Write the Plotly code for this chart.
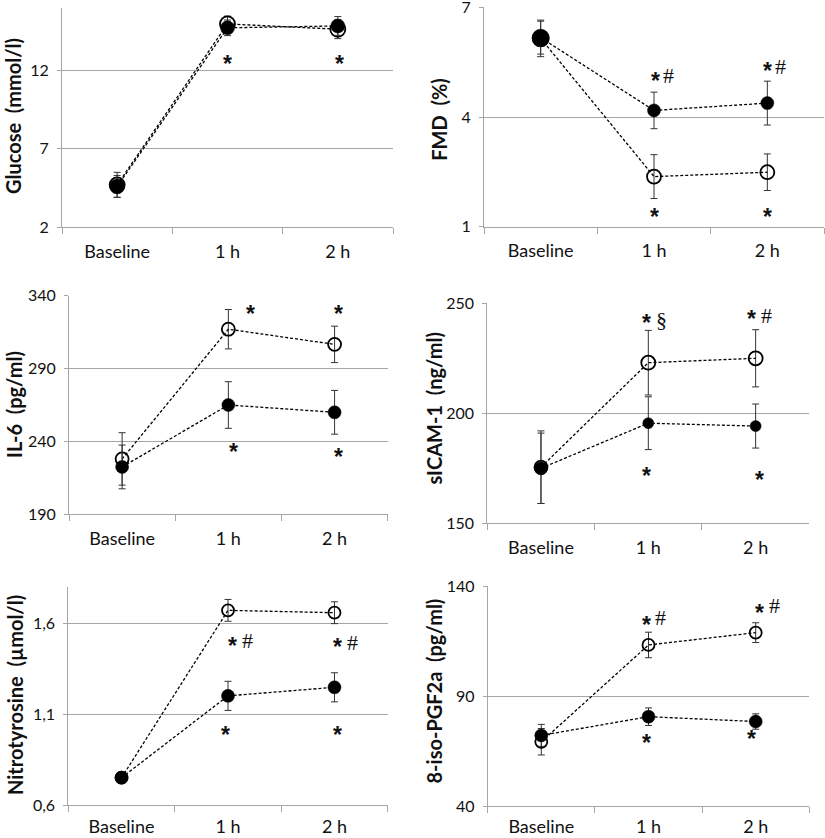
import plotly.graph_objects as go

# ---------------- data ----------------
categories = ["Baseline", "1 h", "2 h"]

glucose_open = [4.7, 15.0, 14.66]
glucose_open_err = [0.8, 0.5, 0.6]
glucose_filled = [4.6, 14.75, 14.87]
glucose_filled_err = [0.7, 0.5, 0.6]

fmd_open = [6.15, 2.37, 2.49]
fmd_open_err = [0.5, 0.6, 0.5]
fmd_filled = [6.17, 4.18, 4.38]
fmd_filled_err = [0.45, 0.5, 0.6]

il6_open = [228, 317, 306.6]
il6_open_err = [18, 13.5, 12.5]
il6_filled = [222.5, 265, 260]
il6_filled_err = [15, 16, 15]

sicam_open = [175.5, 223, 225]
sicam_open_err = [16.5, 14.7, 13]
sicam_filled = [175, 195.5, 194.2]
sicam_filled_err = [16, 12, 10]

nitro_open = [0.75, 1.67, 1.657]
nitro_open_err = [0.03, 0.06, 0.06]
nitro_filled = [0.75, 1.2, 1.247]
nitro_filled_err = [0.03, 0.08, 0.08]

pgf_open = [69.2, 113.2, 118.8]
pgf_open_err = [6, 5.8, 4.5]
pgf_filled = [72.1, 80.6, 78.4]
pgf_filled_err = [5, 4, 3.5]

y_titles = ["Glucose \u00a0(mmol/l)", "FMD \u00a0(%)", "IL-6 \u00a0(pg/ml)",
            "sICAM-1 \u00a0(ng/ml)", "Nitrotyrosine \u00a0(\u00b5mol/l)", "8-iso-PGF2a \u00a0(pg/ml)"]
y_ranges = [[2, 16], [1, 7], [190, 340], [150, 250], [0.6, 1.8], [40, 140]]
y_tickvals = [[2, 7, 12], [1, 4, 7], [190, 240, 290, 340], [150, 200, 250],
              [0.6, 1.1, 1.6], [40, 90, 140]]
y_ticktext = [["2", "7", "12"], ["1", "4", "7"], ["190", "240", "290", "340"],
              ["150", "200", "250"], ["0,6", "1,1", "1,6"], ["40", "90", "140"]]

# significance marks: (panel, category, y value, symbol)
marks = [
    (0, "1 h", 12.8, "*"), (0, "2 h", 12.8, "*"),
    (1, "1 h", 5.15, "*"), (1, "1 h", 5.15, "#"), (1, "2 h", 5.42, "*"), (1, "2 h", 5.42, "#"),
    (1, "1 h", 1.42, "*"), (1, "2 h", 1.42, "*"),
    (2, "1 h", 331.3, "*"), (2, "2 h", 331.3, "*"), (2, "1 h", 237.0, "*"), (2, "2 h", 233.6, "*"),
    (3, "1 h", 243.9, "*"), (3, "1 h", 243.2, "\u00a7"), (3, "2 h", 245.5, "*"), (3, "2 h", 244.7, "#"),
    (3, "1 h", 174.2, "*"), (3, "2 h", 172.3, "*"),
    (4, "1 h", 1.509, "*"), (4, "1 h", 1.509, "#"), (4, "2 h", 1.50, "*"), (4, "2 h", 1.50, "#"),
    (4, "1 h", 1.017, "*"), (4, "2 h", 1.017, "*"),
    (5, "1 h", 124.9, "*"), (5, "1 h", 126.0, "#"), (5, "2 h", 130.6, "*"), (5, "2 h", 131.4, "#"),
    (5, "1 h", 71.5, "*"), (5, "2 h", 73.0, "*"),
]
# horizontal offsets of the marks (px), same order as marks
mark_dx = [0, 2,
           1, 14, 0, 13, 0, 0,
           22, 4, 5, 4,
           -2, 13, -4, 11, -2, 4,
           4, 19, 3, 18, -3, 3,
           -2, 12, 4, 19, -2, -4]

series = [
    (glucose_open, glucose_open_err, glucose_filled, glucose_filled_err),
    (fmd_open, fmd_open_err, fmd_filled, fmd_filled_err),
    (il6_open, il6_open_err, il6_filled, il6_filled_err),
    (sicam_open, sicam_open_err, sicam_filled, sicam_filled_err),
    (nitro_open, nitro_open_err, nitro_filled, nitro_filled_err),
    (pgf_open, pgf_open_err, pgf_filled, pgf_filled_err),
]

# ---------------- layout / style ----------------
W, H = 825, 838
# plot boxes in pixels: (left, right, top, bottom)
boxes = [(62, 393, 8.3, 227), (484, 824, 7.3, 226.7),
         (69, 387.7, 295.7, 514.3), (487.3, 809.3, 303.3, 523.3),
         (68.3, 387.7, 586.7, 805), (487.7, 809.3, 586, 806)]
title_pos = [(13, 116), (438.7, 119), (14, 405), (433.5, 409), (15, 695), (433.5, 691)]
x_standoff = [8, 8, 8, 8, 5, 4]
open_sizes = [[15, 15, 15], [16, 14, 14], [13, 13, 13], [13, 14, 14], [12, 12, 12], [12, 12, 12]]
filled_sizes = [[15, 14, 14], [17, 13, 13], [13, 13, 13], [13, 11, 11], [13, 13, 13], [13, 13, 13]]

GRAY = "#a6a6a6"
TXT = "#111111"
FONT = "Lato"

fig = go.Figure()
annotations = []
for i, (yo, eo, yf, ef) in enumerate(series):
    sfx = "" if i == 0 else str(i + 1)
    xa, ya = "x" + sfx, "y" + sfx
    common = dict(x=categories, xaxis=xa, yaxis=ya, mode="lines+markers",
                  line=dict(color="#000000", width=1.3, dash="3px,2px"), showlegend=False,
                  cliponaxis=False, opacity=1)
    fig.add_trace(go.Scatter(y=yo, **common,
                             error_y=dict(type="data", array=eo, color="#333", thickness=1, width=3.5),
                             marker=dict(symbol="circle-open", size=open_sizes[i], color="#000000",
                                         opacity=1, line=dict(color="#000000", width=1.8))))
    fig.add_trace(go.Scatter(y=yf, **common,
                             error_y=dict(type="data", array=ef, color="#333", thickness=1, width=3.5),
                             marker=dict(symbol="circle", size=filled_sizes[i], color="#000000",
                                         opacity=1, line=dict(color="#000000", width=0.5))))
    l, r, t, b = boxes[i]
    fig.layout["xaxis" + sfx] = dict(
        domain=[l / W, r / W], anchor=ya, type="category", categoryorder="array",
        categoryarray=categories, range=[-0.5, 2.5], tickson="boundaries",
        ticks="outside", ticklen=6, tickcolor=GRAY, showline=True, linecolor=GRAY,
        linewidth=1, showgrid=False, zeroline=False, ticklabelstandoff=x_standoff[i],
        automargin=False, ticklabeloverflow="allow",
        tickfont=dict(family=FONT, size=18, color=TXT))
    fig.layout["yaxis" + sfx] = dict(
        domain=[1 - b / H, 1 - t / H], anchor=xa, range=y_ranges[i],
        tickvals=y_tickvals[i], ticktext=y_ticktext[i], ticks="outside", ticklen=4,
        tickcolor=GRAY, showline=True, linecolor=GRAY, linewidth=1, showgrid=True,
        gridcolor=GRAY, gridwidth=1, zeroline=False, ticklabelstandoff=5, automargin=False,
        ticklabeloverflow="allow", tickfont=dict(family=FONT, size=16, color=TXT))
    tx, ty = title_pos[i]
    annotations.append(dict(x=tx / W, y=1 - ty / H, xref="paper", yref="paper",
                            text="<b>" + y_titles[i] + "</b>", textangle=-90, showarrow=False,
                            font=dict(family=FONT, size=20, color=TXT),
                            xanchor="center", yanchor="middle"))

for (p, cat, yv, sym), dx in zip(marks, mark_dx):
    sfx = "" if p == 0 else str(p + 1)
    if sym == "*":
        txt = "<b>*</b>"
        f = dict(family="Liberation Sans", size=23, color=TXT)
        dy = -6
    else:
        txt = sym
        f = dict(family="Liberation Serif", size=22, color=TXT)
        dy = -1
    annotations.append(dict(x=cat, y=yv, xref="x" + sfx, yref="y" + sfx, text=txt,
                            showarrow=False, font=f, xshift=dx, yshift=dy,
                            xanchor="center", yanchor="middle"))

fig.update_layout(template="none", width=W, height=H,
                  margin=dict(l=0, r=0, t=0, b=0, autoexpand=False),
                  plot_bgcolor="white", paper_bgcolor="white",
                  showlegend=False, annotations=annotations)

fig.write_html("out.html", config={"displayModeBar": False},
               post_script="document.body.style.margin='0px';document.body.style.overflow='hidden';")
